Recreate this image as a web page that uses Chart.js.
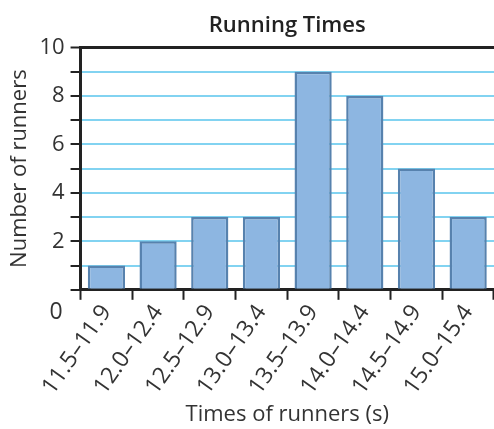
<!DOCTYPE html>
<html>
<head>
<meta charset="utf-8">
<script src="https://cdn.jsdelivr.net/npm/chart.js@4"></script>
<style>
  html, body { margin: 0; padding: 0; background: #fff; }
  #wrap { width: 494px; height: 429px; }
</style>
</head>
<body>
<div id="wrap"><canvas id="runChart"></canvas></div>
<script>
const timeBins = ['11.5–11.9', '12.0–12.4', '12.5–12.9', '13.0–13.4', '13.5–13.9', '14.0–14.4', '14.5–14.9', '15.0–15.4'];
const runnerCounts = [1, 2, 3, 3, 9, 8, 5, 3];

const textColor = '#333333';
const fontFamily = "'Open Sans', 'Noto Sans', sans-serif";

// the "0" label sits below the axis in the original, draw it separately
const zeroLabel = {
    id: 'zeroLabel',
    afterDraw(chart) {
        const y = chart.scales.y;
        const ctx = chart.ctx;
        ctx.save();
        ctx.fillStyle = textColor;
        ctx.font = "23px " + fontFamily;
        ctx.textAlign = 'right';
        ctx.textBaseline = 'middle';
        ctx.fillText('0', y.right - 18, y.getPixelForValue(0) + 23);
        ctx.restore();
    }
};

new Chart(document.getElementById('runChart'), {
    type: 'bar',
    data: {
        labels: timeBins,
        datasets: [{
            label: 'Number of runners',
            data: runnerCounts,
            backgroundColor: '#8db6e1',
            borderColor: '#5782ae',
            borderWidth: 2.5,
            categoryPercentage: 1,
            barPercentage: 0.72
        }]
    },
    options: {
        responsive: true,
        maintainAspectRatio: false,
        animation: false,
        layout: { padding: { left: 7, right: 0, top: 13, bottom: 1 } },
        plugins: {
            legend: { display: false },
            tooltip: { enabled: false },
            title: {
                display: true,
                fullSize: false,
                text: 'Running Times',
                color: '#222',
                font: { family: fontFamily, size: 22, weight: '600' },
                padding: { top: 0, bottom: 8 }
            }
        },
        scales: {
            x: {
                offset: true,
                grid: {
                    offset: true,
                    drawOnChartArea: false,
                    tickLength: 10,
                    tickColor: '#222',
                    tickWidth: 2
                },
                border: { color: '#222', width: 3 },
                ticks: {
                    color: textColor,
                    font: { family: fontFamily, size: 23 },
                    minRotation: 55,
                    maxRotation: 55,
                    padding: 0,
                    autoSkip: false
                },
                title: {
                    display: true,
                    text: 'Times of runners (s)',
                    color: textColor,
                    font: { family: fontFamily, size: 22 },
                    padding: { top: 2, bottom: 0 }
                }
            },
            y: {
                min: 0,
                max: 10,
                grid: {
                    color: ctx => (ctx.tick && (ctx.tick.value === 10 || ctx.tick.value === 0)) ? '#222' : '#82d3f1',
                    lineWidth: ctx => (ctx.tick && ctx.tick.value === 10) ? 3 : 2,
                    tickColor: '#222',
                    tickWidth: 2,
                    tickLength: 10
                },
                border: { color: '#222', width: 3 },
                ticks: {
                    stepSize: 1,
                    autoSkip: false,
                    color: textColor,
                    font: { family: fontFamily, size: 22 },
                    padding: 6,
                    callback: v => (v > 0 && v % 2 === 0) ? v : ''
                },
                title: {
                    display: true,
                    text: 'Number of runners',
                    color: textColor,
                    font: { family: fontFamily, size: 22 },
                    padding: { top: 0, bottom: 0 }
                }
            }
        }
    },
    plugins: [zeroLabel]
});
</script>
</body>
</html>
